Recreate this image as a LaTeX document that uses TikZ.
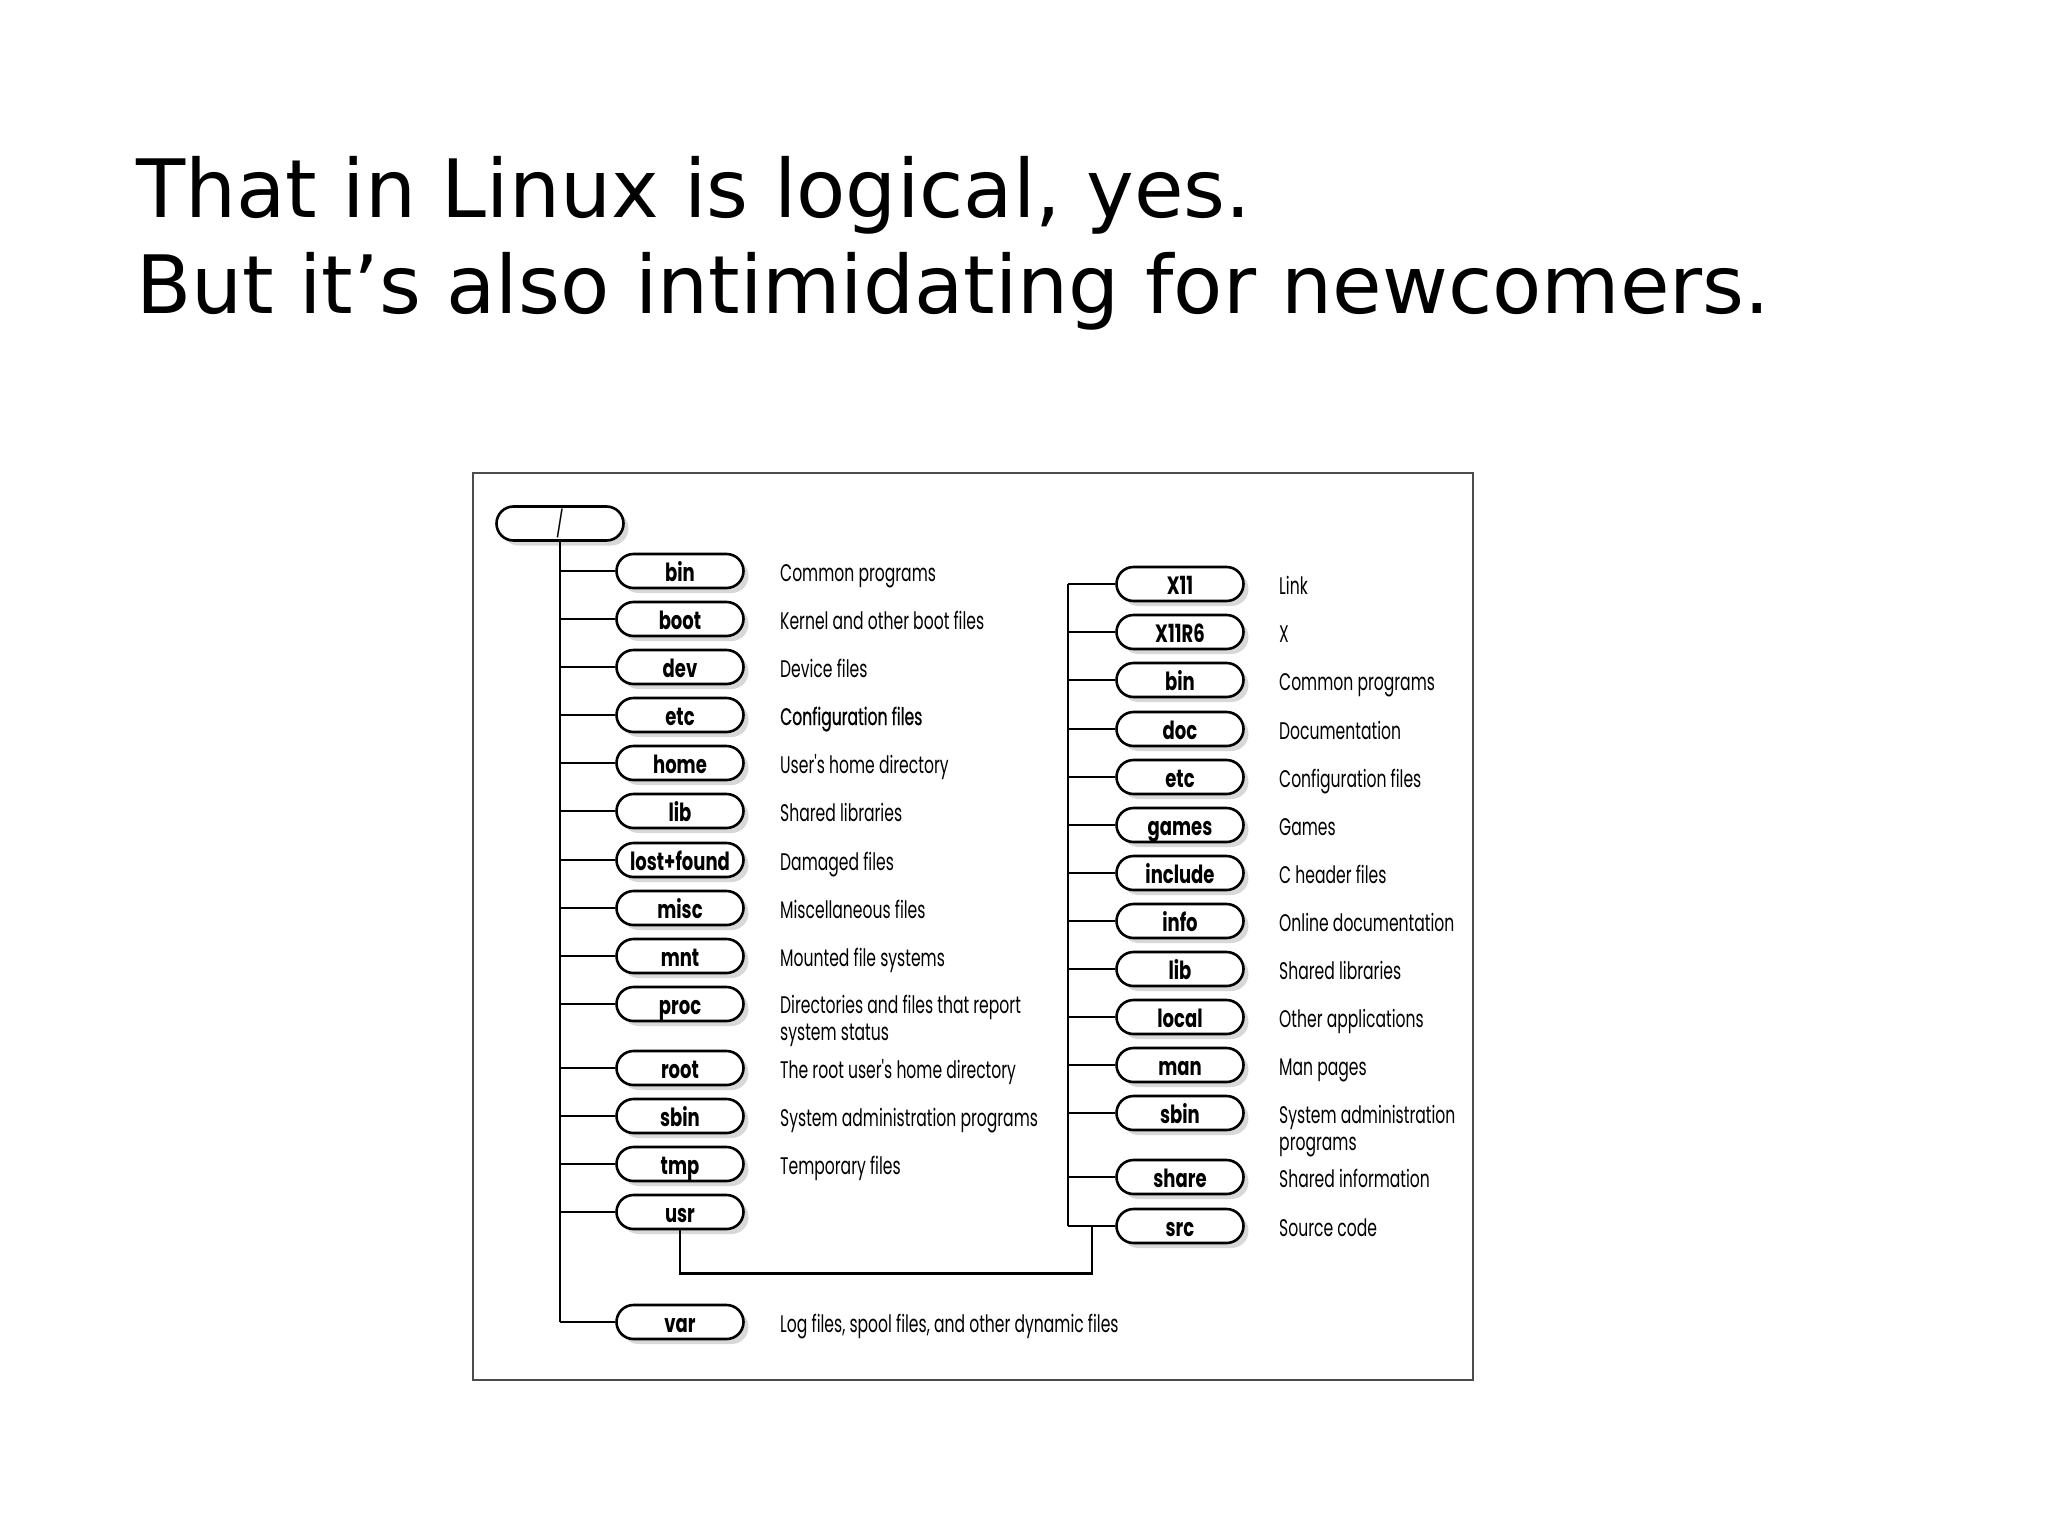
\documentclass[tikz,border=0pt]{standalone}
\usepackage{fontspec}
\setmainfont{DejaVu Sans}
\newfontfamily\futfont[FakeStretch=0.65]{Poppins}
\newfontfamily\futsemi[FakeStretch=0.65,FakeBold=0.8]{Poppins}
\newfontfamily\futbold[FakeStretch=0.72]{Poppins}
\usetikzlibrary{shadows,calc}
\begin{document}
\begin{tikzpicture}[x=1pt,y=-1pt,
  pill/.style={draw, line width=2.6pt, rounded corners=17pt, minimum width=127pt,
    minimum height=34pt, inner sep=0pt, fill=white, text height=20pt, text depth=0pt,
    font=\futbold\bfseries\fontsize{25}{25}\selectfont,
    drop shadow={shadow xshift=5pt,shadow yshift=-5pt,opacity=0.3}},
  desc/.style={anchor=base west, inner sep=0pt, align=left,
    font=\futfont\fontsize{24}{27}\selectfont},
  conn/.style={line width=2.6pt}
]
\fill[white] (0,0) rectangle (2048,1536);
\useasboundingbox (0,0) rectangle (2048,1536);

\node[anchor=base west, inner sep=0pt, align=left,
  font=\fontsize{80.5}{96}\selectfont] (title) at (136,313)
  {That in Linux is logical, yes.\\But it’s also intimidating for newcomers.};

\draw[line width=2pt, draw=black!70] (473,473) rectangle (1473,1380);

\node[pill, font=\futfont\fontsize{26}{26}\selectfont, text height=20pt] (root) at (560,523.5) {/};

\foreach \n/\lab/\y/\dy/\d in {
  lbin/bin/571/10/{Common programs},
  lboot/boot/619/10/{Kernel and other boot files},
  ldev/dev/667/10/{Device files},
  letc/etc/715/10/{\futsemi Configuration files},
  lhome/home/763/10/{User's home directory},
  llib/lib/811/10/{Shared libraries},
  llost/lost+found/860/10/{Damaged files},
  lmisc/misc/908/10/{Miscellaneous files},
  lmnt/mnt/956/10/{Mounted file systems},
  lproc/proc/1004/36/{Directories and files that report\\system status},
  lroot/root/1068/10/{The root user's home directory},
  lsbin/sbin/1116/10/{System administration programs},
  ltmp/tmp/1164/10/{Temporary files},
  lusr/usr/1212/10/{},
  lvar/var/1322/10/{Log files, spool files, and other dynamic files}}{
  \node[pill] (\n) at (680,\y) {\lab};
  \node[desc] (\n-d) at (780,\y+\dy) {\d};
  \draw[conn] (root.south |- \n.west) -- (\n.west);
}
\draw[conn] (root.south) -- (root.south |- lvar.west);

\coordinate (rb) at (1068,584);
\foreach \n/\lab/\y/\dy/\d in {
  rX11/X11/584/10/{Link},
  rX11R6/X11R6/632/10/{X},
  rbin/bin/680/10/{Common programs},
  rdoc/doc/729/10/{Documentation},
  retc/etc/777/10/{Configuration files},
  rgames/games/825/10/{Games},
  rinclude/include/873/10/{C header files},
  rinfo/info/921/10/{Online documentation},
  rlib/lib/969/10/{Shared libraries},
  rlocal/local/1017/10/{Other applications},
  rman/man/1065/10/{Man pages},
  rsbin/sbin/1113/37/{System administration\\programs},
  rshare/share/1177/10/{Shared information},
  rsrc/src/1226/10/{Source code}}{
  \node[pill] (\n) at (1180,\y) {\lab};
  \node[desc] (\n-d) at (1279,\y+\dy) {\d};
  \draw[conn] (rb |- \n.west) -- (\n.west);
}
\draw[conn] (rb |- rX11.west) -- (rb |- rsrc.west);
\coordinate (j) at (1092,1226);
\draw[conn] (lusr.south) -- ++(0,43) -| (j);
\end{tikzpicture}
\end{document}
